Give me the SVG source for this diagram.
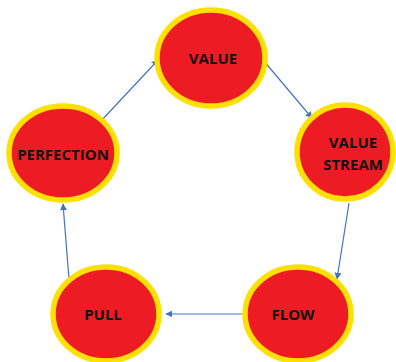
<svg xmlns="http://www.w3.org/2000/svg" width="396" height="362" viewBox="0 0 396 362">
<defs>
<style>
.n ellipse{fill:#ED1C24;stroke:#FFE000;stroke-width:5.5}
.n text{font-family:"Open Sans","Liberation Sans",sans-serif;font-weight:bold;font-size:15px;fill:#111;text-anchor:middle}
.c line{stroke:#4472C4;stroke-width:1.2;marker-end:url(#ah)}
</style>
<marker id="ah" viewBox="0 0 10 10" refX="9" refY="5" markerWidth="7" markerHeight="7" markerUnits="userSpaceOnUse" orient="auto">
<path d="M0,0 L10,5 L0,10 z" fill="#4472C4"/>
</marker>
</defs>
<rect width="396" height="362" fill="#fff"/>
<g id="connectors" class="c">
<line x1="101" y1="121" x2="158" y2="60"/>
<line x1="263" y1="60" x2="312" y2="118"/>
<line x1="349" y1="203" x2="337" y2="279"/>
<line x1="246" y1="314" x2="166" y2="314"/>
<line x1="69" y1="279" x2="63" y2="204"/>
</g>
<g id="value" class="n"><ellipse cx="211" cy="58" rx="54" ry="48"/><text x="213" y="64">VALUE</text></g>
<g id="value-stream" class="n"><ellipse cx="345" cy="152" rx="48" ry="47"/><text x="353" y="148">VALUE</text><text x="353" y="170">STREAM</text></g>
<g id="perfection" class="n"><ellipse cx="63" cy="153" rx="54" ry="47"/><text x="63" y="160">PERFECTION</text></g>
<g id="pull" class="n"><ellipse cx="106" cy="314" rx="53" ry="47"/><text x="103" y="320">PULL</text></g>
<g id="flow" class="n"><ellipse cx="298" cy="314" rx="53" ry="47"/><text x="293" y="320">FLOW</text></g>
</svg>
